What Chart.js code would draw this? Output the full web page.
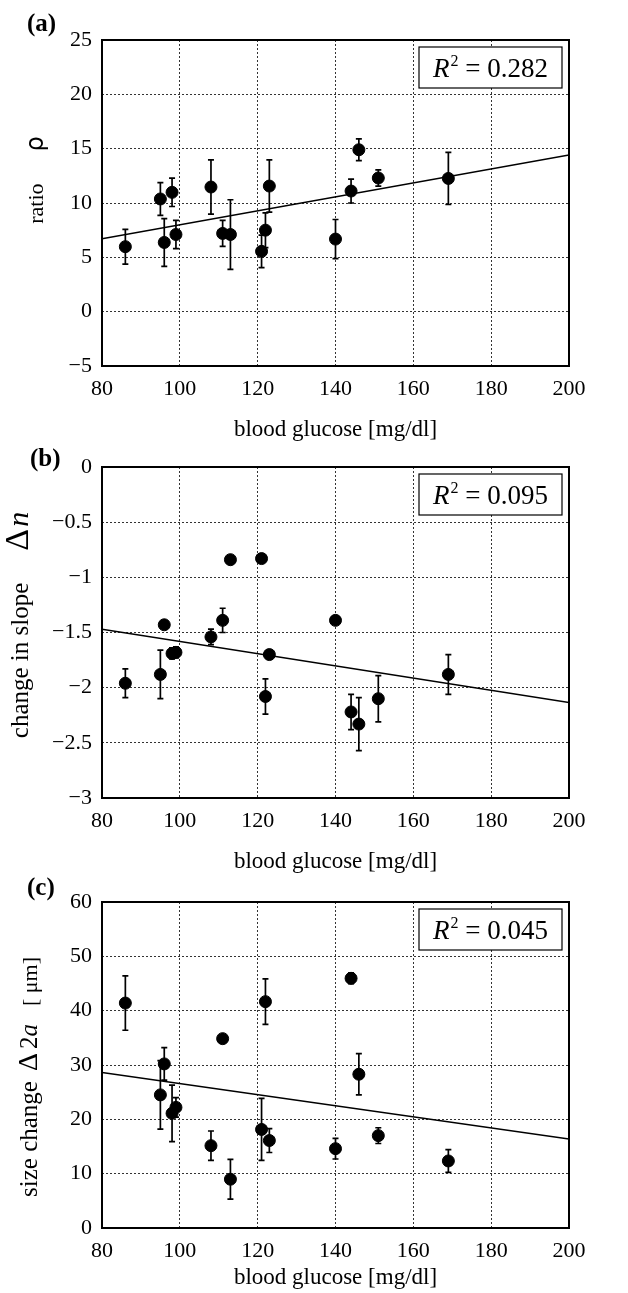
<!DOCTYPE html>
<html>
<head>
<meta charset="utf-8">
<script src="https://cdn.jsdelivr.net/npm/chart.js@4.4.1/dist/chart.umd.min.js"></script>
<style>
  html, body { margin: 0; padding: 0; background: #fff; }
  #wrap { position: relative; width: 628px; height: 1293px; overflow: hidden; }
  canvas { position: absolute; left: 0; }
</style>
</head>
<body>
<div id="wrap">
  <canvas id="chartA" width="628" height="450" style="top:0px"></canvas>
  <canvas id="chartB" width="628" height="440" style="top:436px"></canvas>
  <canvas id="chartC" width="628" height="423" style="top:870px"></canvas>
</div>
<script>
// blood glucose of each subject [mg/dl]
const glucose = [86, 95, 96, 98, 99, 108, 111, 113, 121, 122, 123, 140, 144, 146, 151, 169];

// (a) ratio rho
const ratio    = [5.98, 10.37, 6.37, 10.98, 7.1, 11.47, 7.2, 7.1, 5.55, 7.5, 11.56, 6.68, 11.1, 14.9, 12.3, 12.26];
const ratioErr = [1.6, 1.5, 2.2, 1.3, 1.3, 2.5, 1.2, 3.2, 1.5, 1.6, 2.4, 1.8, 1.1, 1.0, 0.75, 2.4];

// (b) change in slope
const slope    = [-1.96, -1.88, -1.43, -1.69, -1.68, -1.54, -1.39, -0.84, -0.83, -2.08, -1.70, -1.39, -2.22, -2.33, -2.10, -1.88];
const slopeErr = [0.13, 0.22, 0.03, 0.05, 0.05, 0.07, 0.11, 0.03, 0.02, 0.16, 0.04, 0.02, 0.16, 0.24, 0.21, 0.18];

// (c) size change
const size     = [41.4, 24.5, 30.2, 21.1, 22.2, 15.15, 34.85, 8.98, 18.14, 41.66, 16.1, 14.6, 45.95, 28.3, 17.0, 12.34];
const sizeErr  = [5.0, 6.3, 3.0, 5.2, 1.8, 2.7, 0, 3.65, 5.7, 4.2, 2.2, 1.9, 1.0, 3.8, 1.45, 2.1];

// linear fits, evaluated at the ends of the x axis
const fitX = [80, 200];
const fitA = [6.7, 14.42];
const fitB = [-1.47, -2.135];
const fitC = [28.6, 16.4];

const r2Values = ['0.282', '0.095', '0.045'];

// tick labels
const xTicks  = [80, 100, 120, 140, 160, 180, 200];
const yTicksA = [-5, 0, 5, 10, 15, 20, 25];
const yTicksB = [-3, -2.5, -2, -1.5, -1, -0.5, 0];
const yTicksC = [0, 10, 20, 30, 40, 50, 60];

const SERIF = '"Liberation Serif", "Times New Roman", serif';

function fmt(v) {
  const r = Math.round(v * 10) / 10;
  return r < 0 ? '\u2212' + Math.abs(r) : String(r);
}

const errorBars = {
  id: 'errorBars',
  beforeDatasetsDraw(chart) {
    const ds = chart.data.datasets[1];
    const xs = chart.scales.x, ys = chart.scales.y, ctx = chart.ctx;
    ctx.save();
    ctx.strokeStyle = '#000';
    ctx.lineWidth = 1.7;
    ds.data.forEach((p, i) => {
      const e = ds.errors[i];
      if (!e) return;
      const px = xs.getPixelForValue(p.x);
      const top = ys.getPixelForValue(p.y + e);
      const bot = ys.getPixelForValue(p.y - e);
      ctx.beginPath();
      ctx.moveTo(px, top); ctx.lineTo(px, bot);
      ctx.moveTo(px - 3, top); ctx.lineTo(px + 3, top);
      ctx.moveTo(px - 3, bot); ctx.lineTo(px + 3, bot);
      ctx.stroke();
    });
    ctx.restore();
  }
};

// frame, R^2 box, panel letter, y title
const panelDeco = {
  id: 'panelDeco',
  afterDraw(chart, args, o) {
    const ctx = chart.ctx;
    const a = chart.chartArea;
    ctx.save();

    ctx.strokeStyle = '#000';
    ctx.lineWidth = 2;
    ctx.strokeRect(a.left, a.top, a.right - a.left, a.bottom - a.top);

    // R^2 box
    const bw = 143, bh = 41;
    const bx = a.right - 7 - bw, by = a.top + 7;
    ctx.fillStyle = '#fff';
    ctx.fillRect(bx, by, bw, bh);
    ctx.lineWidth = 1.2;
    ctx.strokeRect(bx, by, bw, bh);
    ctx.fillStyle = '#000';
    ctx.textBaseline = 'alphabetic';
    ctx.textAlign = 'left';
    const fR = 'italic 27px ' + SERIF, fS = '16px ' + SERIF, fN = '27px ' + SERIF;
    const rest = ' = ' + o.r2;
    ctx.font = fR; const wR = ctx.measureText('R').width;
    ctx.font = fS; const wS = ctx.measureText('2').width;
    ctx.font = fN; const wN = ctx.measureText(rest).width;
    let tx = bx + (bw - (wR + wS + 1 + wN)) / 2;
    const base = by + bh / 2 + 9;
    ctx.font = fR; ctx.fillText('R', tx, base); tx += wR + 1;
    ctx.font = fS; ctx.fillText('2', tx, base - 11); tx += wS;
    ctx.font = fN; ctx.fillText(rest, tx, base);

    // panel letter
    ctx.font = 'bold 25px ' + SERIF;
    ctx.textBaseline = 'middle';
    ctx.fillText(o.label, o.labelX, o.labelY);

    // rotated y title made of pieces
    ctx.textBaseline = 'alphabetic';
    ctx.translate(o.titleX, o.titleY);
    ctx.rotate(-Math.PI / 2);
    let total = 0;
    o.title.forEach((p, i) => {
      ctx.font = p.font;
      total += ctx.measureText(p.text).width + (i < o.title.length - 1 ? (p.gap || 0) : 0);
    });
    let x = -total / 2;
    o.title.forEach(p => {
      ctx.font = p.font;
      ctx.fillText(p.text, x, 0);
      x += ctx.measureText(p.text).width + (p.gap || 0);
    });
    ctx.restore();
  }
};

function makePanel(id, cfg) {
  return new Chart(document.getElementById(id), {
    type: 'scatter',
    data: {
      datasets: [
        {
          data: fitX.map((x, i) => ({ x: x, y: cfg.fit[i] })),
          showLine: true,
          borderColor: '#000',
          borderWidth: 1.5,
          pointRadius: 0,
          order: 2
        },
        {
          data: glucose.map((x, i) => ({ x: x, y: cfg.values[i] })),
          errors: cfg.errors,
          backgroundColor: '#000',
          borderColor: '#000',
          pointRadius: 6,
          order: 1
        }
      ]
    },
    options: {
      responsive: false,
      animation: false,
      layout: { padding: { top: cfg.top, right: 59, left: 0, bottom: 0 } },
      plugins: {
        legend: { display: false },
        tooltip: { enabled: false },
        panelDeco: cfg.deco
      },
      scales: {
        x: {
          type: 'linear',
          min: 80,
          max: 200,
          afterBuildTicks: s => { s.ticks = xTicks.map(v => ({ value: v })); },
          afterFit: s => { s.height = cfg.xHeight; },
          ticks: { color: '#000', padding: 10, font: { family: SERIF, size: 22 }, maxRotation: 0 },
          grid: { color: '#333', lineWidth: 1, drawTicks: false },
          border: { display: false, dash: [2, 2] },
          title: {
            display: true,
            text: 'blood glucose [mg/dl]',
            color: '#000',
            font: { family: SERIF, size: 23 },
            padding: { top: 0, bottom: cfg.titlePad }
          }
        },
        y: {
          min: cfg.yTicks[0],
          max: cfg.yTicks[cfg.yTicks.length - 1],
          afterBuildTicks: s => { s.ticks = cfg.yTicks.map(v => ({ value: v })); },
          afterFit: s => { s.width = 102; },
          ticks: { color: '#000', padding: 10, font: { family: SERIF, size: 22 }, callback: v => fmt(v) },
          grid: { color: '#333', lineWidth: 1, drawTicks: false },
          border: { display: false, dash: [2, 2] }
        }
      }
    },
    plugins: [errorBars, panelDeco]
  });
}

makePanel('chartA', {
  values: ratio, errors: ratioErr, fit: fitA, yTicks: yTicksA,
  top: 40, xHeight: 84, titlePad: 6,
  deco: {
    label: '(a)', labelX: 27, labelY: 25, r2: r2Values[0], titleX: 43, titleY: 180,
    title: [
      { text: 'ratio', font: '22px ' + SERIF, gap: 32 },
      { text: '\u03c1', font: '24px "DejaVu Sans"' }
    ]
  }
});

makePanel('chartB', {
  values: slope, errors: slopeErr, fit: fitB, yTicks: yTicksB,
  top: 31, xHeight: 78, titlePad: 0,
  deco: {
    label: '(b)', labelX: 30, labelY: 24, r2: r2Values[1], titleX: 28, titleY: 189,
    title: [
      { text: 'change in slope', font: '25px ' + SERIF, gap: 32 },
      { text: '\u0394', font: '34px ' + SERIF, gap: 2 },
      { text: 'n', font: 'italic 30px ' + SERIF }
    ]
  }
});

makePanel('chartC', {
  values: size, errors: sizeErr, fit: fitC, yTicks: yTicksC,
  top: 32, xHeight: 65, titlePad: 1,
  deco: {
    label: '(c)', labelX: 27, labelY: 19, r2: r2Values[2], titleX: 37, titleY: 207,
    title: [
      { text: 'size change', font: '25px ' + SERIF, gap: 10 },
      { text: '\u0394', font: '28px ' + SERIF, gap: 4 },
      { text: '2', font: '25px ' + SERIF, gap: 0 },
      { text: 'a', font: 'italic 25px ' + SERIF, gap: 18 },
      { text: '[ \u03bcm]', font: '22px ' + SERIF }
    ]
  }
});
</script>
</body>
</html>
